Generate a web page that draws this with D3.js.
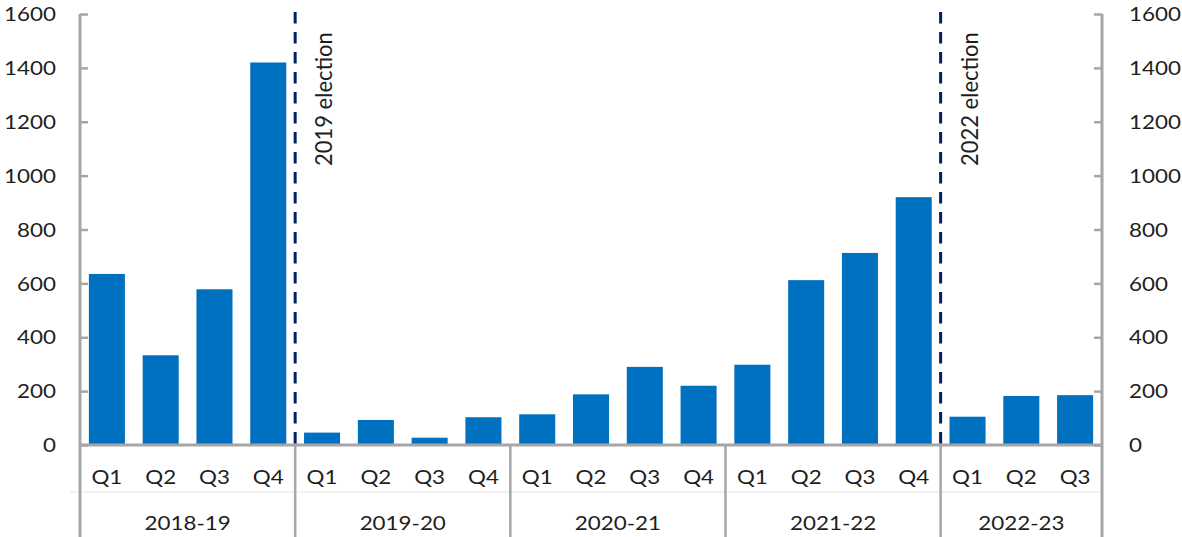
<!DOCTYPE html>
<html><head><meta charset="utf-8">
<script src="https://cdn.jsdelivr.net/npm/d3@7"></script>
<style>html,body{margin:0;padding:0;background:#fff;}svg{display:block;}</style>
</head><body>
<svg id="chart" width="1182" height="537"></svg>
<script>
const years = ["2018-19","2019-20","2020-21","2021-22","2022-23"];
const quarters = [["Q1","Q2","Q3","Q4"],["Q1","Q2","Q3","Q4"],["Q1","Q2","Q3","Q4"],["Q1","Q2","Q3","Q4"],["Q1","Q2","Q3"]];
const values = [635,333,578,1420, 46,93,27,103, 114,188,290,220, 298,612,713,920, 105,182,185];
const yTicks = [0,200,400,600,800,1000,1200,1400,1600];
const elections = [{label:"2019 election", afterYear:"2018-19"},{label:"2022 election", afterYear:"2021-22"}];

(function(){
const data = [];
quarters.forEach((qs,yi)=>qs.forEach(q=>data.push({year:years[yi],q:q,key:years[yi]+" "+q})));
data.forEach((d,i)=>d.value=values[i]);

const svg = d3.select("#chart");
const pl=80, pr=1102, pt=14, base=445, pb=537;
const font = "Lato, 'Open Sans', sans-serif";
const axisColor="#a6a6a6", textColor="#1e1e1e";
const fs = 20, sx = 1.12;

const x = d3.scaleBand().domain(data.map(d=>d.key)).range([pl,pr]).paddingInner(0.33).paddingOuter(0.165);
const y = d3.scaleLinear().domain([0,1600]).range([base,pt]);
const step = x.step();

function label(sel, cls, items, fx, fy, anchor, ftext){
  const g = sel.selectAll("g."+cls).data(items).join("g").attr("class",cls)
    .attr("transform",d=>`translate(${fx(d)},${fy(d)}) scale(${sx},1)`);
  g.append("text").attr("dy","0.36em").attr("text-anchor",anchor)
    .attr("font-family",font).attr("font-size",fs).attr("fill",textColor).text(ftext);
}

svg.append("line").attr("x1",70).attr("x2",pr).attr("y1",492).attr("y2",492)
  .attr("stroke","#ececec").attr("stroke-width",1.5);

svg.selectAll("rect.bar").data(data).join("rect").attr("class","bar")
  .attr("x",d=>x(d.key)).attr("width",x.bandwidth())
  .attr("y",d=>y(d.value)).attr("height",d=>base-y(d.value))
  .attr("fill","#0070c0");

const la = svg.append("g").attr("transform",`translate(${pl},0)`)
  .call(d3.axisRight(y).tickValues(yTicks).tickSize(8).tickFormat(""));
la.select(".domain").remove();
la.selectAll("line").attr("stroke",axisColor).attr("stroke-width",2.5);
svg.append("line").attr("x1",pl).attr("x2",pl).attr("y1",pt).attr("y2",pb).attr("stroke",axisColor).attr("stroke-width",3);

const ra = svg.append("g").attr("transform",`translate(${pr},0)`)
  .call(d3.axisLeft(y).tickValues(yTicks).tickSize(8).tickFormat(""));
ra.select(".domain").remove();
ra.selectAll("line").attr("stroke",axisColor).attr("stroke-width",2.5);
svg.append("line").attr("x1",pr).attr("x2",pr).attr("y1",pt).attr("y2",pb).attr("stroke",axisColor).attr("stroke-width",3);

label(svg,"yl",yTicks,()=>56,d=>y(d),"end",d=>d);
label(svg,"yr",yTicks,()=>1129,d=>y(d),"start",d=>d);

svg.append("line").attr("x1",pl).attr("x2",pr).attr("y1",base).attr("y2",base).attr("stroke",axisColor).attr("stroke-width",3);

label(svg,"q",data,d=>x(d.key)+x.bandwidth()/2,()=>477,"middle",d=>d.q);

const groups = years.map((yr,i)=>{
  const items = data.filter(d=>d.year===yr);
  const x0 = x(items[0].key) - (step - x.bandwidth())/2;
  const x1 = x(items[items.length-1].key) + x.bandwidth() + (step - x.bandwidth())/2;
  return {year:yr,x0:x0,x1:x1};
});
svg.selectAll("line.sep").data(groups.slice(1)).join("line").attr("class","sep")
  .attr("x1",d=>d.x0).attr("x2",d=>d.x0).attr("y1",base).attr("y2",pb)
  .attr("stroke",axisColor).attr("stroke-width",2.5);
label(svg,"yr2",groups,d=>(d.x0+d.x1)/2,()=>523,"middle",d=>d.year);

elections.forEach(e=>{
  const g = groups.find(d=>d.year===e.afterYear);
  const ex = g.x1;
  svg.append("line").attr("x1",ex).attr("x2",ex).attr("y1",12).attr("y2",base)
    .attr("stroke","#002060").attr("stroke-width",3).attr("stroke-dasharray","11.5,8.5");
  svg.append("text").attr("transform",`translate(${ex+37},166) rotate(-90) scale(1,1.08)`)
    .attr("text-anchor","start").attr("font-family",font).attr("font-size",22).attr("fill",textColor).text(e.label);
});
})();
</script>
</body></html>
